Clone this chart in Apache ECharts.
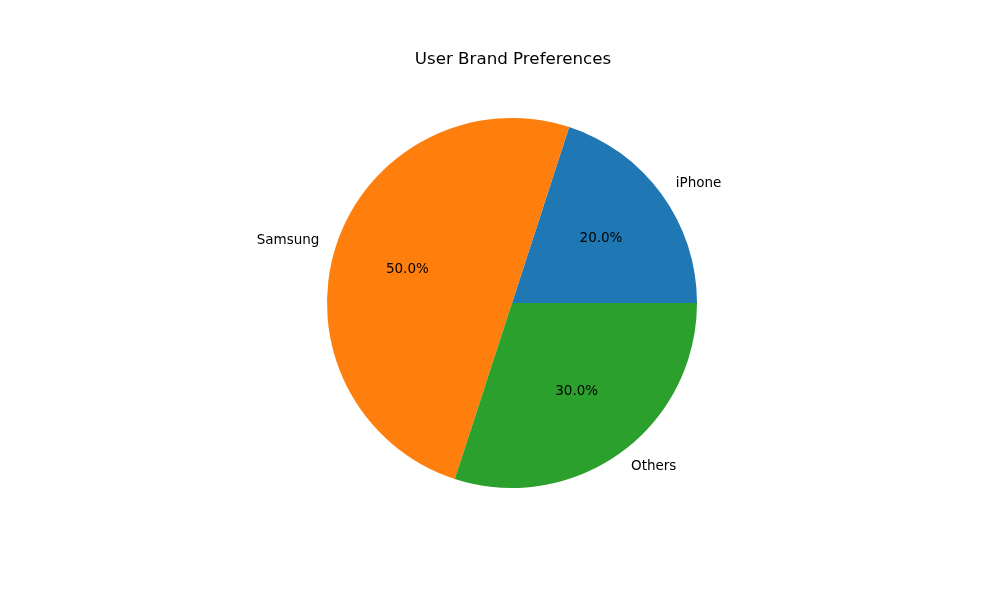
<!DOCTYPE html>
<html>
<head>
<meta charset="utf-8">
<script src="https://cdn.jsdelivr.net/npm/echarts@6/dist/echarts.min.js"></script>
<style>html,body{margin:0;padding:0;background:#fff}#c{width:1000px;height:600px}</style>
</head>
<body>
<div id="c"></div>
<script>
const categories = ['iPhone', 'Samsung', 'Others'];
const values = [20, 50, 30];
const colors = ['#1f77b4', '#ff7f0e', '#2ca02c'];
const nameAlign = ['left', 'right', 'left'];

const R = 185;
const LABEL_RING = 214;
const center = [512, 303];
const font = 'DejaVu Sans';

const chart = echarts.init(document.getElementById('c'));
const common = {
  type: 'pie',
  center: center,
  startAngle: 0,
  clockwise: false,
  silent: true,
  animation: false,
  avoidLabelOverlap: false,
  emphasis: { disabled: true },
  labelLine: { show: false }
};
chart.setOption({
  backgroundColor: '#fff',
  title: {
    text: 'User Brand Preferences',
    left: 508,
    textAlign: 'center',
    top: 46,
    textStyle: { fontFamily: font, fontSize: 16.7, fontWeight: 'normal', color: '#000' }
  },
  series: [
    Object.assign({}, common, {
      radius: [0, R],
      label: { show: false },
      data: categories.map((c, i) => ({ name: c, value: values[i], itemStyle: { color: colors[i] } }))
    }),
    Object.assign({}, common, {
      radius: [0, LABEL_RING],
      label: {
        show: true, position: 'inside', color: '#000', fontFamily: font, fontSize: 13.5,
        formatter: p => p.percent.toFixed(1) + '%'
      },
      data: categories.map((c, i) => ({ name: c, value: values[i], itemStyle: { color: 'rgba(0,0,0,0)' } }))
    }),
    Object.assign({}, common, {
      radius: [R, LABEL_RING],
      label: {
        show: true, position: 'inside', color: '#000', fontFamily: font, fontSize: 13.5,
        formatter: '{b}'
      },
      labelLayout: p => ({ align: nameAlign[p.dataIndex], verticalAlign: 'middle' }),
      data: categories.map((c, i) => ({ name: c, value: values[i], itemStyle: { color: 'rgba(0,0,0,0)' } }))
    })
  ]
});
</script>
</body>
</html>
